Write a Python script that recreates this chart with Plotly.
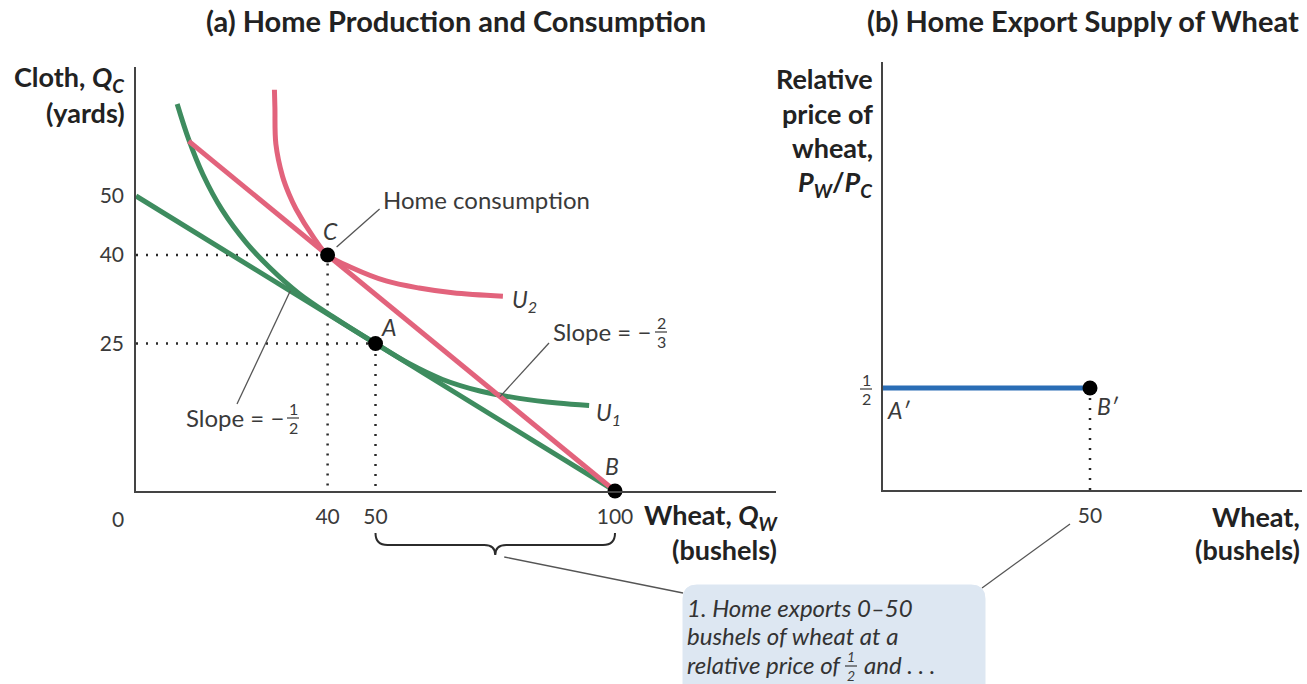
import plotly.graph_objects as go

# ---- panel (a): home production and consumption ----
wheat_ticks = [40, 50, 100]
cloth_ticks = [25, 40, 50]

# production possibilities line, slope -1/2
ppf_x = [0, 100]
ppf_y = [50, 0]
# world price line, slope -2/3
world_x = [11.0, 100]
world_y = [59.3, 0]

# indifference curves
u1_x = [8.6, 11.0, 14.0, 18.0, 23.0, 28.0, 34.0, 41.0, 50.0, 57.0, 64.0, 72.0, 80.0, 88.0, 94.6]
u1_y = [65.6, 59.6, 53.6, 47.6, 42.1, 37.8, 33.5, 29.6, 25.0, 21.6, 18.9, 16.9, 15.7, 14.9, 14.5]
u2_x = [28.9, 29.0, 29.2, 30.6, 32.0, 33.4, 36.9, 40.0, 45.2, 52.2, 59.1, 66.1, 76.6]
u2_y = [68.0, 65.0, 58.8, 53.3, 50.2, 47.8, 43.2, 40.0, 37.8, 35.6, 34.4, 33.6, 33.0]

pt_names = ["C", "A", "B"]
pt_x = [40, 50, 100]
pt_y = [40, 25, 0]

# ---- panel (b): home export supply ----
export_x = [0, 50]
export_p = [0.5, 0.5]
export_ticks = [50]

W, H = 1307, 684
FONT = "Lato, Noto Sans, sans-serif"
GREEN = "#3e8c5f"
RED = "#e2637c"
BLUE = "#2a6db5"
INK = "#2b2b2b"
TXT = "#3a3a3a"
HEAD = "#222"

# pixel layout of the two plot areas
L_X0, L_Y0, SX1, SY1 = 136, 491, 4.79, 5.9
L_XR, L_YR = (776 - L_X0) / SX1, (L_Y0 - 67) / SY1
R_X0, R_Y0, SX2, SY2 = 883, 490, 4.14, 204
R_XR, R_YR = (1302 - R_X0) / SX2, (R_Y0 - 62) / SY2


def pp(x, y):
    return x / W, 1 - y / H


def lpx(x, y):
    return L_X0 + x * SX1, L_Y0 - y * SY1


annotations = []
shapes = []


def text(s, x, y, size=20, bold=False, italic=False, xanchor="center", color=TXT):
    if italic:
        s = "<i>" + s + "</i>"
    if bold:
        s = "<b>" + s + "</b>"
    px, py = pp(x, y)
    annotations.append(dict(text=s, x=px, y=py, xref="paper", yref="paper",
                            xanchor=xanchor, yanchor="middle", showarrow=False, borderpad=0,
                            font=dict(family=FONT, size=size, color=color)))


def seg(x0, y0, x1, y1, width=1.3, color="#555"):
    a, b = pp(x0, y0)
    c, d = pp(x1, y1)
    shapes.append(dict(type="line", xref="paper", yref="paper", x0=a, y0=b, x1=c, y1=d,
                       line=dict(color=color, width=width)))


def frac(xc, yc, num, den, size=16, italic=False):
    text(num, xc, yc - 9, size=size, italic=italic)
    text(den, xc, yc + 10, size=size, italic=italic)
    seg(xc - 6, yc + 1, xc + 6, yc + 1, width=1.2, color=TXT)


fig = go.Figure()

dot = dict(color=INK, width=2.5, dash="2px,8px")
fig.add_trace(go.Scatter(x=[0, pt_x[0], pt_x[0]], y=[pt_y[0], pt_y[0], 0], mode="lines", line=dot))
fig.add_trace(go.Scatter(x=[0, pt_x[1], pt_x[1]], y=[pt_y[1], pt_y[1], 0], mode="lines", line=dot))

fig.add_trace(go.Scatter(x=ppf_x, y=ppf_y, mode="lines", line=dict(color=GREEN, width=5)))
fig.add_trace(go.Scatter(x=u1_x, y=u1_y, mode="lines", line=dict(color=GREEN, width=5, shape="spline")))
fig.add_trace(go.Scatter(x=world_x, y=world_y, mode="lines", line=dict(color=RED, width=5)))
fig.add_trace(go.Scatter(x=u2_x, y=u2_y, mode="lines", line=dict(color=RED, width=5, shape="spline")))
fig.add_trace(go.Scatter(x=pt_x, y=pt_y, mode="markers", marker=dict(color="black", size=15), cliponaxis=False))

fig.add_trace(go.Scatter(x=[export_x[1], export_x[1]], y=[0, export_p[1]], mode="lines",
                         line=dot, xaxis="x2", yaxis="y2"))
fig.add_trace(go.Scatter(x=export_x, y=export_p, mode="lines", line=dict(color=BLUE, width=5),
                         xaxis="x2", yaxis="y2"))
fig.add_trace(go.Scatter(x=[export_x[1]], y=[export_p[1]], mode="markers",
                         marker=dict(color="black", size=15), xaxis="x2", yaxis="y2"))

# point labels
cx, cy = lpx(pt_x[0], pt_y[0])
ax_, ay_ = lpx(pt_x[1], pt_y[1])
bx, by = lpx(pt_x[2], pt_y[2])
text("C", cx + 3, cy - 24, size=23, italic=True)
text("A", ax_ + 13, ay_ - 17, size=23, italic=True)
text("B", bx - 3, by - 25, size=23, italic=True)
ux, uy = lpx(u2_x[-1], u2_y[-1])
text("U<sub>2</sub>", ux + 8, uy + 4, size=23, italic=True, xanchor="left")
ux, uy = lpx(u1_x[-1], u1_y[-1])
text("U<sub>1</sub>", ux + 6, uy + 8, size=23, italic=True, xanchor="left")

text("Home consumption", cx + 54, cy - 56, size=24, xanchor="left")
seg(cx + 9, cy - 8, cx + 52, cy - 46)

gx, gy = lpx(32.2, 50 - 16.1)
seg(gx, gy, 237, 404)
text("Slope = −", 185, 417, size=24, xanchor="left")
frac(293, 417, "1", "2")

rx, ry = lpx(76, (100 - 76) * 2 / 3)
seg(rx, ry, 549, 343)
text("Slope = −", 552, 331, size=24, xanchor="left")
frac(661, 331, "2", "3")

# tick-like labels
ox, oy = lpx(0, 0)
text("0", ox - 18, oy + 27, size=21)
frac(866, 388, "1", "2")
text("A′", 899, 410, size=23, italic=True)
text("B′", 1108, 406, size=23, italic=True)

# titles and axis titles
text("(a) Home Production and Consumption", 456, 21, size=29, bold=True, color=HEAD)
text("(b) Home Export Supply of Wheat", 1083, 21, size=29, bold=True, color=HEAD)
text("Cloth, <i>Q<sub>C</sub></i>", 126, 79, size=27, bold=True, xanchor="right", color=HEAD)
text("(yards)", 126, 112, size=27, bold=True, xanchor="right", color=HEAD)
text("Wheat, <i>Q<sub>W</sub></i>", 780, 516, size=27, bold=True, xanchor="right", color=HEAD)
text("(bushels)", 778, 549, size=27, bold=True, xanchor="right", color=HEAD)
for i, s in enumerate(["Relative", "price of", "wheat,", "<i>P<sub>W</sub></i>/<i>P<sub>C</sub></i>"]):
    text(s, 874, 78 + 35 * i, size=27, bold=True, xanchor="right", color=HEAD)
text("Wheat,", 1301, 516, size=27, bold=True, xanchor="right", color=HEAD)
text("(bushels)", 1301, 549, size=27, bold=True, xanchor="right", color=HEAD)

# brace under 50..100 bushels
b0, _ = lpx(50, 0)
b1, _ = lpx(100, 0)
bm = (b0 + b1) / 2
pts = [(b0, 533), (b0, 545), (b0 + 12, 545), (bm - 11, 545), (bm, 545), (bm, 555),
       (bm, 545), (bm + 11, 545), (b1 - 12, 545), (b1, 545), (b1, 533)]
pp_ = [pp(*p) for p in pts]
path = "M {0[0]},{0[1]} Q {1[0]},{1[1]} {2[0]},{2[1]} L {3[0]},{3[1]} Q {4[0]},{4[1]} {5[0]},{5[1]} " \
       "Q {6[0]},{6[1]} {7[0]},{7[1]} L {8[0]},{8[1]} Q {9[0]},{9[1]} {10[0]},{10[1]}".format(*pp_)
shapes.append(dict(type="path", xref="paper", yref="paper", path=path, line=dict(color=INK, width=2)))

# callout box
x0, x1, y0, y1, r = 683, 985, 585, 700, 14
bp = [(x0 + r, y0), (x1 - r, y0), (x1, y0), (x1, y0 + r), (x1, y1), (x0, y1), (x0, y0 + r), (x0, y0), (x0 + r, y0)]
bq = [pp(*p) for p in bp]
box = "M {0[0]},{0[1]} L {1[0]},{1[1]} Q {2[0]},{2[1]} {3[0]},{3[1]} L {4[0]},{4[1]} L {5[0]},{5[1]} " \
      "L {6[0]},{6[1]} Q {7[0]},{7[1]} {8[0]},{8[1]} Z".format(*bq)
shapes.append(dict(type="path", xref="paper", yref="paper", path=box, fillcolor="#dde7f2",
                   line=dict(color="#dde7f2", width=1), layer="below"))
seg(bm + 9, 557, x0, 593)
seg(x1 - 3, 588, 1070, 524)
text("1. Home exports 0–50", 686, 607, size=24, italic=True, xanchor="left", color="#333")
text("bushels of wheat at a", 686, 635, size=24, italic=True, xanchor="left", color="#333")
text("relative price of", 686, 664, size=24, italic=True, xanchor="left", color="#333")
frac(851, 665, "1", "2", size=14, italic=True)
text("and . . .", 863, 664, size=24, italic=True, xanchor="left", color="#333")

axis_common = dict(showgrid=False, zeroline=False, showline=True, linecolor="#444", linewidth=1.5,
                   ticks="outside", tickcolor="rgba(0,0,0,0)",
                   tickfont=dict(family=FONT, size=21, color=TXT), fixedrange=True)

fig.update_layout(
    width=W, height=H, margin=dict(l=0, r=0, t=0, b=0),
    paper_bgcolor="white", plot_bgcolor="white", showlegend=False,
    xaxis=dict(domain=[L_X0 / W, 776 / W], range=[0, L_XR], tickvals=wheat_ticks, ticklen=6,
               anchor="y", **axis_common),
    yaxis=dict(domain=[1 - L_Y0 / H, 1 - 67 / H], range=[0, L_YR], tickvals=cloth_ticks, ticklen=6,
               anchor="x", **axis_common),
    xaxis2=dict(domain=[R_X0 / W, 1302 / W], range=[0, R_XR], tickvals=export_ticks, ticklen=6,
                anchor="y2", **axis_common),
    yaxis2=dict(domain=[1 - R_Y0 / H, 1 - 62 / H], range=[0, R_YR], tickvals=[], anchor="x2",
                **axis_common),
    annotations=annotations, shapes=shapes,
)

# page has a default 8px body margin; drop it so the figure fills the window
fig.write_html("out.html", config={"displayModeBar": False},
               post_script="document.body.style.margin='0';")
